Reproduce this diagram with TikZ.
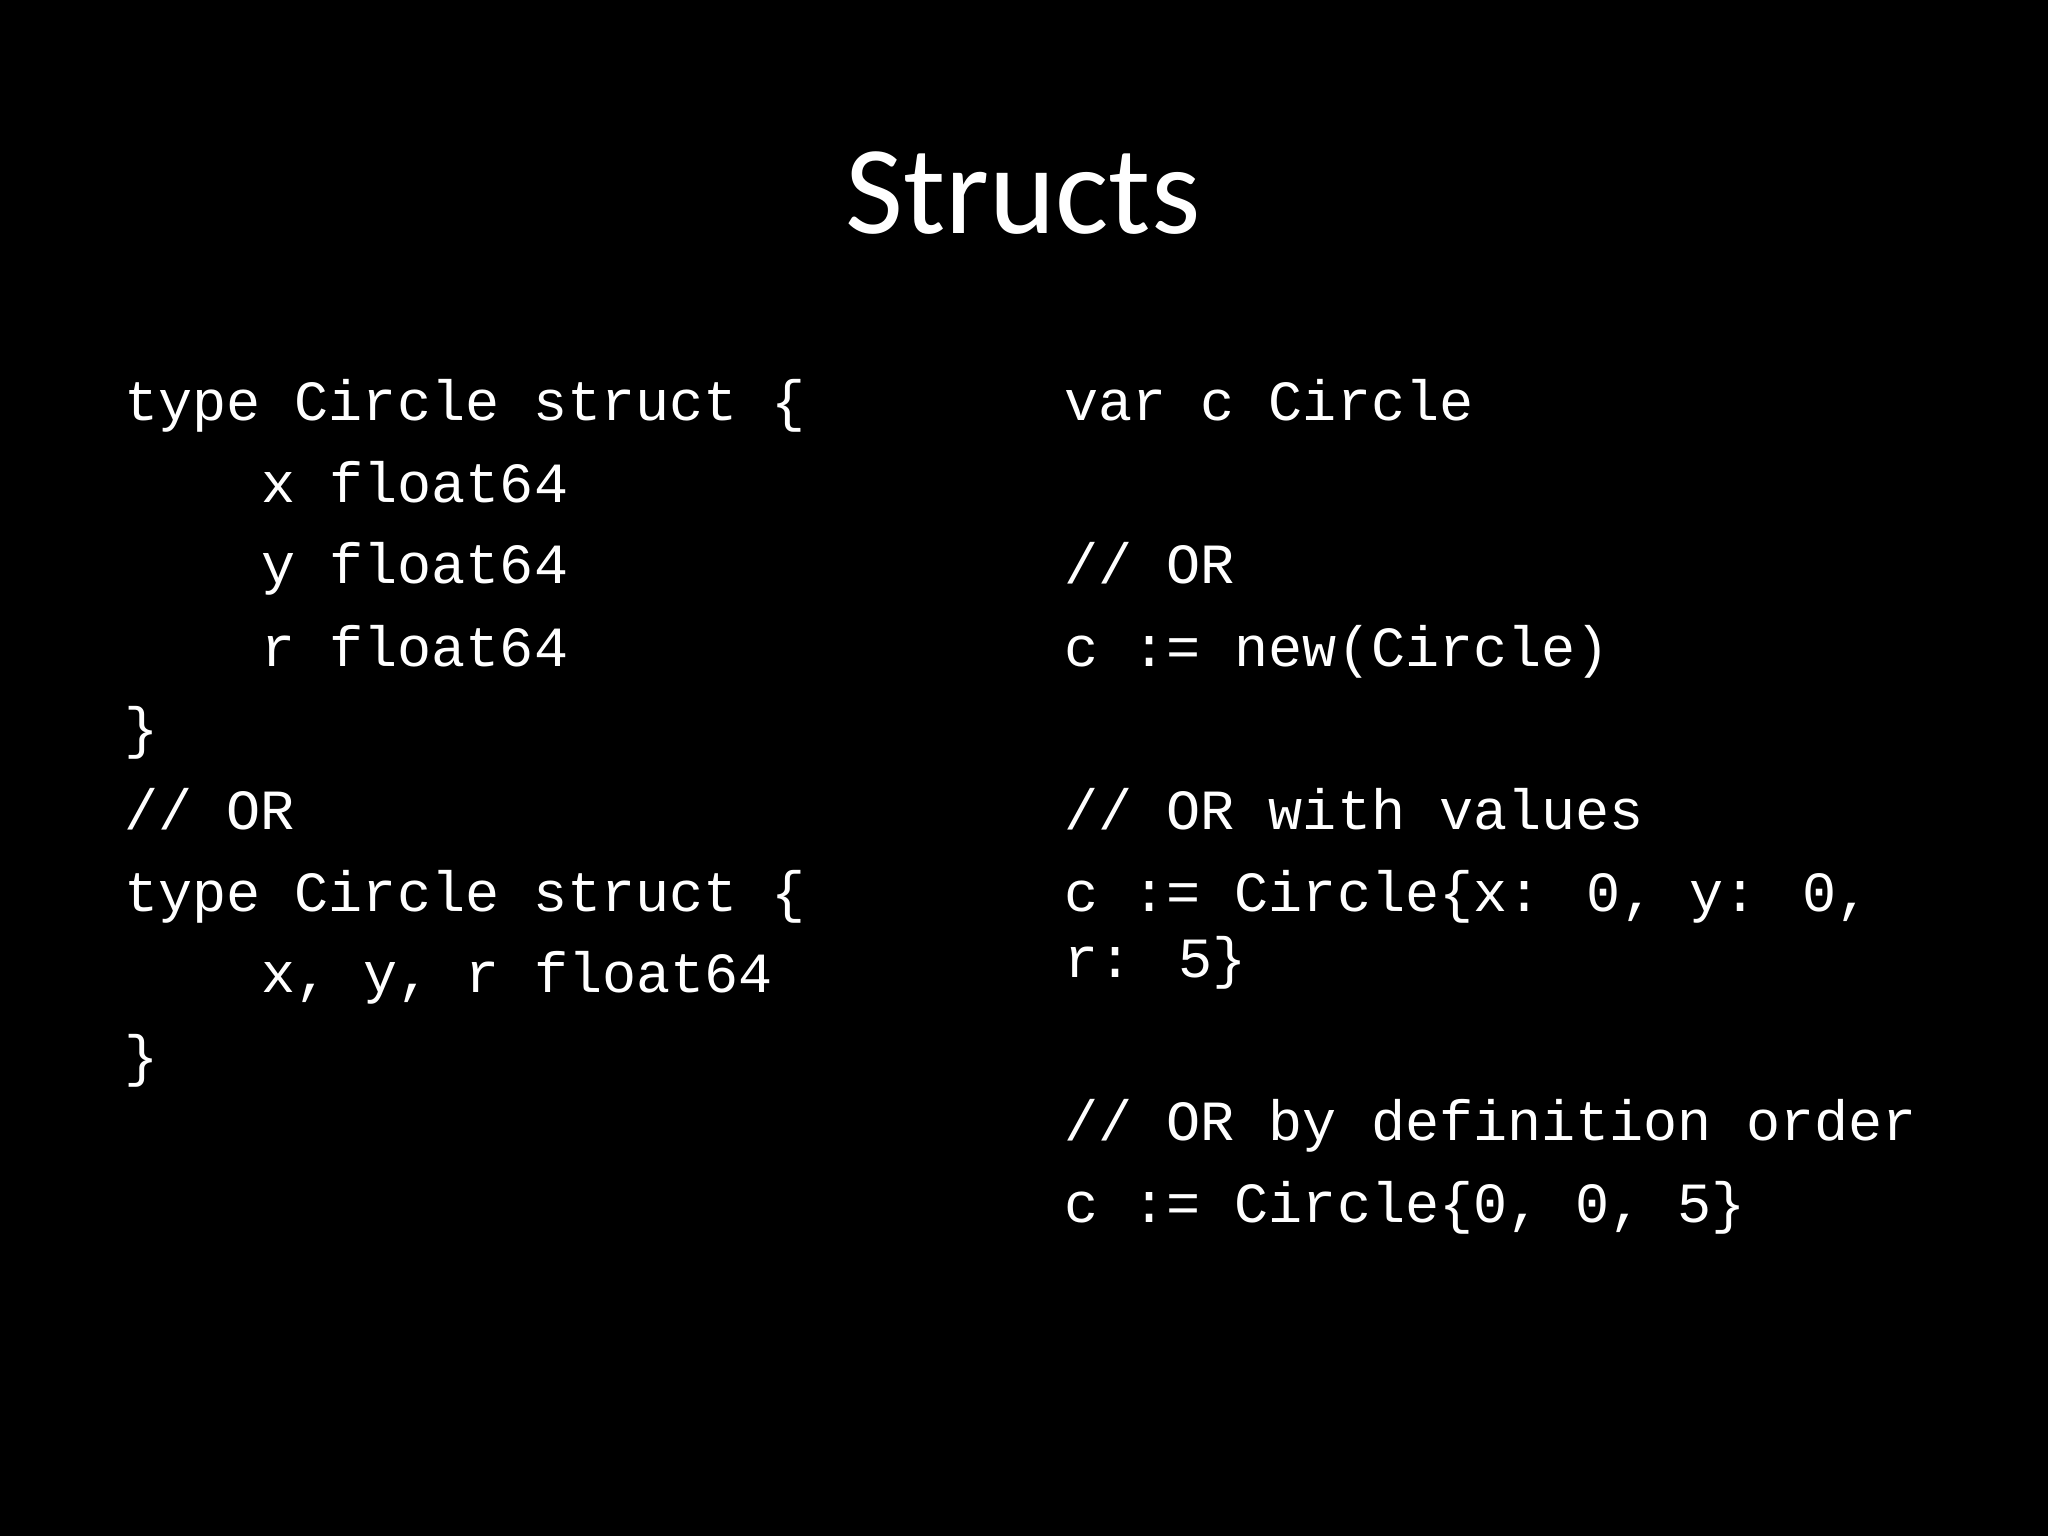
\documentclass[tikz,border=0pt]{standalone}
\usepackage{fontspec}
\setmainfont{Carlito}
\newfontfamily\codefont{Liberation Mono}
\begin{document}
\begin{tikzpicture}[x=0.5pt,y=-0.5pt,
  code/.style={anchor=base west,inner sep=0pt,text=white,font=\codefont\fontsize{28.4}{30}\selectfont}]
\fill[black] (0,0) rectangle (2048,1536);
\useasboundingbox (0,0) rectangle (2048,1536);
\node[anchor=base,inner sep=0pt,text=white,font=\fontsize{63}{66}\selectfont] (title) at (1023,233) {Structs};
\node[code] (l1) at (124,420.6) {type Circle struct \{};
\node[code] (l2) at (261,502.8) {x float64};
\node[code] (l3) at (261,583.8) {y float64};
\node[code] (l4) at (261,666) {r float64};
\node[code] (l5) at (124,747) {\}};
\node[code] (l6) at (124,829) {// OR};
\node[code] (l7) at (124,911.6) {type Circle struct \{};
\node[code] (l8) at (261,992.6) {x, y, r float64};
\node[code] (l9) at (124,1075) {\}};
\node[code] (r1) at (1064,420.6) {var c Circle};
\node[code] (r2) at (1064,583.8) {// OR};
\node[code] (r3) at (1064,666) {c := new(Circle)};
\node[code] (r4) at (1064,829) {// OR with values};
\node[code] (r5) at (1064,911.6) {c := Circle\{x: 0, y: 0,};
\node[code] (r6) at (1064,977) {r: 5\}};
\node[code] (r7) at (1064,1140) {// OR by definition order};
\node[code] (r8) at (1064,1222.5) {c := Circle\{0, 0, 5\}};
\end{tikzpicture}
\end{document}
